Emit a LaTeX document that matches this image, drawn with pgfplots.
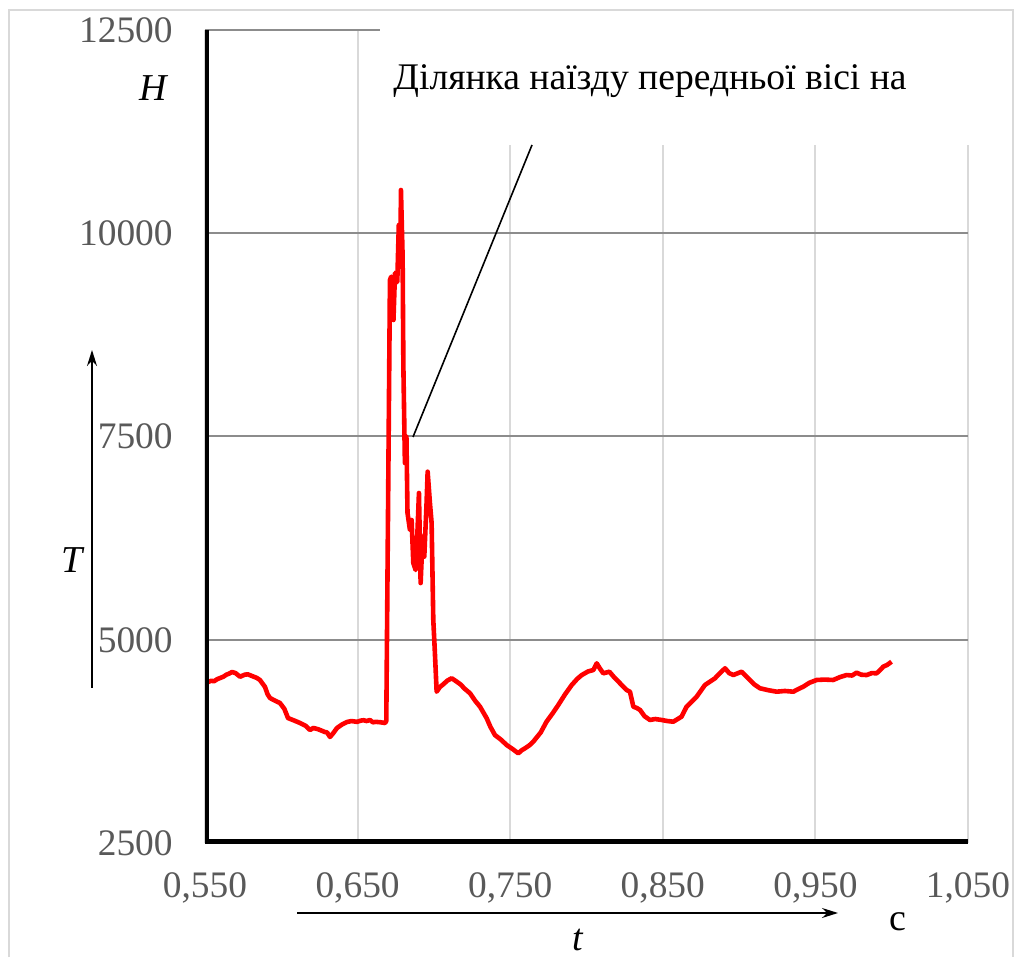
\documentclass[border=0pt]{standalone}
\usepackage{pgfplots}
\pgfplotsset{compat=1.18}
\usepackage{fontspec}
\setmainfont{Liberation Serif}
\usetikzlibrary{arrows.meta}
\definecolor{tickgray}{HTML}{595959}
\definecolor{hgrid}{HTML}{8C8C8C}
\definecolor{vgrid}{HTML}{D9D9D9}
\definecolor{bordergray}{HTML}{D9D9D9}
\begin{document}
\begin{tikzpicture}
\path[use as bounding box] (0,0) rectangle (510.5pt,478.5pt);
\draw[bordergray, line width=0.8pt] (4.5pt,0pt) -- (4.5pt,473.5pt) -- (506.5pt,473.5pt) -- (506.5pt,0pt);
\begin{axis}[
  at={(102.5pt,57pt)}, anchor=south west,
  scale only axis, width=381.5pt, height=406.5pt,
  xmin=0.55, xmax=1.05, ymin=2500, ymax=12500,
  scaled ticks=false,
  axis line style={draw=none},
  major tick length=0pt,
  xtick={0.55,0.65,0.75,0.85,0.95,1.05},
  xticklabels={{0,550},{0,650},{0,750},{0,850},{0,950},{1,050}},
  ytick={2500,5000,7500,10000,12500},
  yticklabels={2500,5000,7500,10000,12500},
  xmajorgrids, ymajorgrids,
  x grid style={vgrid, line width=1pt},
  y grid style={hgrid, line width=1pt},
  xticklabel style={anchor=north, inner sep=0pt, yshift=-14.5pt, text=tickgray, font=\fontsize{18.7}{23}\selectfont},
  yticklabel style={anchor=east, inner sep=0pt, xshift=-16pt, text=tickgray, font=\fontsize{18.7}{23}\selectfont},
]
\addplot[red, line width=2.3pt, line join=round] coordinates {
(0.5520,4480) (0.5540,4495) (0.5560,4490) (0.5580,4515) (0.5600,4530)
(0.5620,4545) (0.5640,4570) (0.5660,4585) (0.5677,4603) (0.5700,4590)
(0.5730,4545) (0.5760,4570) (0.5780,4575) (0.5800,4560) (0.5820,4545)
(0.5840,4530) (0.5860,4505) (0.5893,4420) (0.5910,4330) (0.5926,4283)
(0.5960,4250) (0.5991,4222) (0.6020,4150) (0.6044,4037) (0.6080,4010)
(0.6123,3976) (0.6140,3960) (0.6160,3940) (0.6188,3890) (0.6210,3915)
(0.6240,3900) (0.6260,3885) (0.6286,3865) (0.6300,3860) (0.6319,3804)
(0.6340,3850) (0.6365,3915) (0.6400,3960) (0.6430,3988) (0.6460,4000)
(0.6496,3990) (0.6520,4005) (0.6540,4010) (0.6560,4000) (0.6581,4013)
(0.6600,3985) (0.6620,3990) (0.6650,3985) (0.6680,3976) (0.6688,4000)
(0.6712,9425) (0.6720,9466) (0.6735,8933) (0.6745,9511) (0.6760,9400)
(0.6770,10101) (0.6780,9590) (0.6784,10532) (0.6795,9712) (0.6800,8358)
(0.6810,7174) (0.6820,7497) (0.6827,6559) (0.6843,6350) (0.6854,6473)
(0.6865,5944) (0.6880,5858) (0.6891,6268) (0.6902,6805) (0.6913,5697)
(0.6926,6268) (0.6937,6022) (0.6952,6682) (0.6959,7067) (0.6974,6682)
(0.6985,6436) (0.6996,5243) (0.7005,4900) (0.7018,4361) (0.7040,4420)
(0.7060,4450) (0.7090,4500) (0.7117,4526) (0.7150,4484) (0.7175,4450)
(0.7200,4400) (0.7237,4341) (0.7270,4250) (0.7302,4177) (0.7346,4034)
(0.7370,3930) (0.7400,3828) (0.7440,3770) (0.7477,3705) (0.7520,3650)
(0.7553,3603) (0.7575,3640) (0.7597,3665) (0.7625,3700) (0.7651,3746)
(0.7700,3860) (0.7738,3992) (0.7780,4100) (0.7815,4197) (0.7860,4330)
(0.7903,4443) (0.7940,4520) (0.7969,4566) (0.8010,4610) (0.8045,4628)
(0.8067,4710) (0.8090,4640) (0.8110,4587) (0.8150,4607) (0.8185,4530)
(0.8220,4464) (0.8263,4382) (0.8285,4360) (0.8307,4177) (0.8330,4160)
(0.8351,4136) (0.8380,4060) (0.8416,4013) (0.8450,4025) (0.8493,4013)
(0.8530,4000) (0.8569,3992) (0.8623,4054) (0.8656,4177) (0.8690,4240)
(0.8722,4300) (0.8776,4443) (0.8842,4526) (0.8880,4600) (0.8908,4649)
(0.8935,4590) (0.8962,4566) (0.9017,4607) (0.9071,4505) (0.9100,4450)
(0.9137,4403) (0.9190,4380) (0.9246,4361) (0.9300,4370) (0.9355,4361)
(0.9390,4395) (0.9421,4423) (0.9460,4470) (0.9508,4505) (0.9560,4510)
(0.9617,4505) (0.9660,4540) (0.9705,4566) (0.9740,4560) (0.9770,4595)
(0.9800,4570) (0.9836,4566) (0.9870,4590) (0.9901,4587) (0.9920,4620)
(0.9945,4669) (0.9970,4690) (0.9999,4730)
};
\draw[black, line width=3.5pt, line join=miter] (rel axis cs:0,1) -- (rel axis cs:0,0) -- (rel axis cs:1,0);
\end{axis}
% white label box over the grid
\fill[white] (190pt,406pt) rectangle (488pt,466pt);
\node[anchor=base west, inner sep=0pt, font=\fontsize{18.8}{23}\selectfont] at (196.5pt,433.5pt) {Ділянка наїзду передньої вісі на};
\draw[black, line width=0.8pt] (206.5pt,260pt) -- (266pt,406pt);
% axis annotations
\node[font=\fontsize{19}{23}\selectfont\itshape] at (76.5pt,434.5pt) {H};
\node[font=\fontsize{19}{23}\selectfont\itshape] at (36pt,198.5pt) {T};
\draw[black, line width=0.8pt, -{Stealth[length=8pt,width=5pt]}] (46pt,134.5pt) -- (46pt,303.5pt);
\draw[black, line width=0.8pt, -{Stealth[length=8pt,width=5pt]}] (148.5pt,22pt) -- (419pt,22pt);
\node[font=\fontsize{19}{23}\selectfont\itshape] at (289pt,8.5pt) {t};
\node[font=\fontsize{19}{23}\selectfont] at (449pt,17.5pt) {с};
\end{tikzpicture}
\end{document}
